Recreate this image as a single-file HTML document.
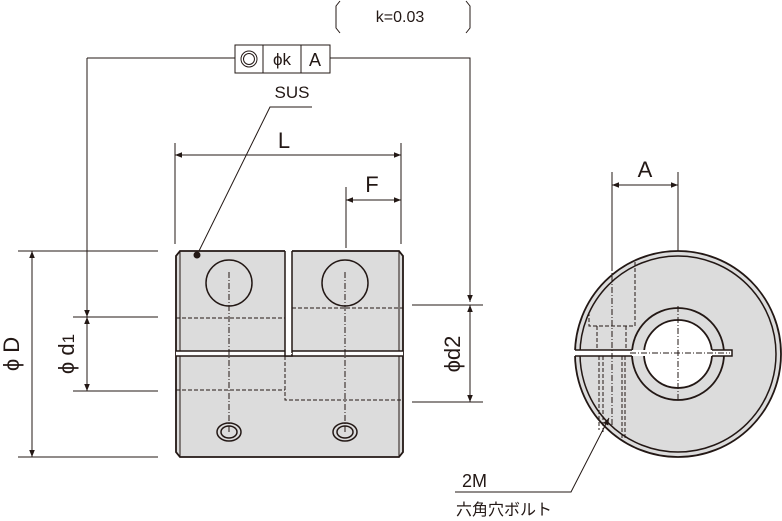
<!DOCTYPE html>
<html><head><meta charset="utf-8"><style>
html,body{margin:0;padding:0;background:#fff;}
svg{display:block;}
text{font-family:"Liberation Sans","Noto Sans CJK JP",sans-serif;fill:#231815;}
</style></head><body>
<svg width="782" height="521" viewBox="0 0 782 521" xmlns="http://www.w3.org/2000/svg">
<defs>
<marker id="ar" viewBox="0 0 10 10" refX="10" refY="5" markerWidth="10" markerHeight="7" orient="auto-start-reverse" markerUnits="userSpaceOnUse">
<path d="M0,1 L10,5 L0,9 z" fill="#231815"/></marker>
</defs>
<g stroke="#231815" fill="none" stroke-width="1">
<path d="M340,1 L336,6 L336,28 L340,33"/>
<path d="M466,1 L470,6 L470,28 L466,33"/>
<rect x="235" y="45" width="95" height="28"/>
<line x1="263" y1="45" x2="263" y2="73"/><line x1="301" y1="45" x2="301" y2="73"/>
<circle cx="249" cy="59" r="8"/><circle cx="249" cy="59" r="5.5"/>
<polyline points="87,58 235,58"/>
<polyline points="330,58 470,58 470,302" marker-end="url(#ar)"/>
<line x1="87" y1="58" x2="87" y2="317" marker-end="url(#ar)"/>
<polyline points="312,107 270,107 197,255"/>
<line x1="175" y1="143" x2="175" y2="244"/><line x1="401" y1="143" x2="401" y2="244"/>
<line x1="175" y1="155" x2="401" y2="155" marker-start="url(#ar)" marker-end="url(#ar)"/>
<line x1="346" y1="187" x2="346" y2="248"/>
<line x1="346" y1="200" x2="401" y2="200" marker-start="url(#ar)" marker-end="url(#ar)"/>
<line x1="18" y1="251" x2="158" y2="251"/><line x1="18" y1="457" x2="158" y2="457"/>
<line x1="32" y1="251" x2="32" y2="457" marker-start="url(#ar)" marker-end="url(#ar)"/>
<line x1="73" y1="317" x2="158" y2="317"/><line x1="73" y1="391" x2="158" y2="391"/>
<line x1="87" y1="317" x2="87" y2="391" marker-start="url(#ar)" marker-end="url(#ar)"/>
<line x1="412" y1="305" x2="483" y2="305"/><line x1="412" y1="402" x2="483" y2="402"/>
<line x1="470" y1="305" x2="470" y2="402" marker-start="url(#ar)" marker-end="url(#ar)"/>
<path d="M180,251 L399,251 L403,256 L403,452 L399,457 L180,457 L176,452 L176,256 Z" fill="#dcdcdc" stroke-width="1.8"/>
<line x1="180" y1="251" x2="180" y2="457"/><line x1="399" y1="251" x2="399" y2="457"/>
<rect x="176" y="351" width="227" height="5" fill="#fff" stroke="none"/>
<line x1="176" y1="351" x2="403" y2="351" stroke-width="1.5"/><line x1="176" y1="356" x2="403" y2="356" stroke-width="1.5"/>
<rect x="285" y="250" width="7" height="106" fill="#fff" stroke="none"/>
<polyline points="285,251 285,356 292,356 292,251" stroke-width="1.5"/>
<line x1="176" y1="353.5" x2="403" y2="353.5" stroke="#fff" stroke-dasharray="6 4"/>
<circle cx="229" cy="283" r="23" stroke-width="1.5"/><circle cx="345" cy="283" r="23" stroke-width="1.5"/>
<ellipse cx="229" cy="432" rx="12" ry="9" stroke-width="1.5"/><ellipse cx="229" cy="432" rx="8" ry="6" stroke-width="1.5"/>
<ellipse cx="345" cy="432" rx="12" ry="9" stroke-width="1.5"/><ellipse cx="345" cy="432" rx="8" ry="6" stroke-width="1.5"/>
<g stroke-dasharray="6 2 1 2">
<line x1="229" y1="272" x2="229" y2="432"/><line x1="345" y1="272" x2="345" y2="432"/>
</g>
<g stroke-dasharray="4 2">
<line x1="176" y1="318" x2="285" y2="318"/><line x1="292" y1="308" x2="403" y2="308"/>
<line x1="176" y1="390" x2="285" y2="390"/>
<polyline points="285,356 285,400 403,400"/>
</g>
<circle cx="197" cy="255" r="3" fill="#231815"/>
<line x1="612" y1="172" x2="612" y2="265"/><line x1="678" y1="172" x2="678" y2="293"/>
<line x1="612" y1="185" x2="678" y2="185" marker-start="url(#ar)" marker-end="url(#ar)"/>
<circle cx="678" cy="354" r="103" fill="#dcdcdc" stroke-width="1.8"/>
<circle cx="678" cy="354" r="98" stroke-width="1.5"/>
<circle cx="678" cy="354" r="46" stroke-width="1.8"/>
<circle cx="678" cy="354" r="34" fill="#fff" stroke-width="1.8"/>
<rect x="574" y="350" width="158" height="6" fill="#fff" stroke="none"/>
<polyline points="575,350 632,350" stroke-width="1.5"/>
<polyline points="575,356 632,356" stroke-width="1.5"/>
<polyline points="712,350 732,350 732,356 712,356" stroke-width="1.5"/>
<g stroke-dasharray="6 2 1 2">
<line x1="678" y1="306" x2="678" y2="402"/><line x1="630" y1="353" x2="730" y2="353"/>
<line x1="612" y1="265" x2="612" y2="425"/>
</g>
<g stroke-dasharray="4 2">
<polyline points="635,262 635,326 589,326 589,310"/>
<line x1="597" y1="326" x2="597" y2="350"/><line x1="626" y1="326" x2="626" y2="350"/>
<line x1="599" y1="356" x2="599" y2="430"/><line x1="603" y1="356" x2="603" y2="433"/>
<line x1="622" y1="356" x2="622" y2="440"/><line x1="625" y1="356" x2="625" y2="440"/>
</g>
<polyline points="455,492 571,492 609,418" marker-end="url(#ar)"/>
</g>
<text x="400" y="22" font-size="16" text-anchor="middle">k=0.03</text>
<text x="282" y="65" font-size="17" text-anchor="middle">ϕk</text>
<text x="315" y="66" font-size="18" text-anchor="middle">A</text>
<text x="292" y="98" font-size="17" text-anchor="middle">SUS</text>
<text x="284" y="148" font-size="22" text-anchor="middle">L</text>
<text x="372" y="192" font-size="22" text-anchor="middle">F</text>
<text x="645" y="177" font-size="22" text-anchor="middle">A</text>
<text transform="translate(19,354) rotate(-90)" font-size="22" text-anchor="middle">ϕ D</text>
<text transform="translate(74,354) rotate(-90)" font-size="22" text-anchor="middle">ϕ d<tspan font-size="17">1</tspan></text>
<text transform="translate(460,354) rotate(-90)" font-size="22" text-anchor="middle">ϕd2</text>
<text x="462" y="487" font-size="18">2M</text>
<text x="456" y="515" font-size="16">六角穴ボルト</text>
</svg>
</body></html>
